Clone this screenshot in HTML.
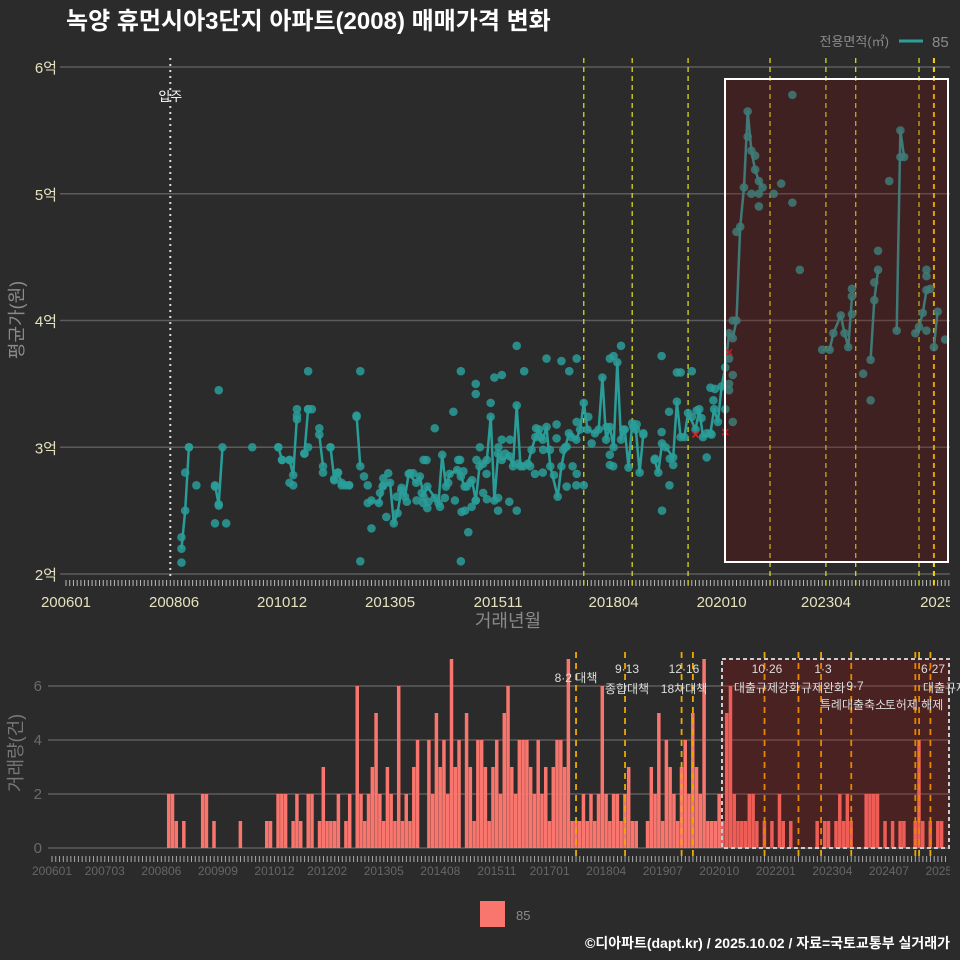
<!DOCTYPE html>
<html><head><meta charset="utf-8">
<style>
html,body{margin:0;padding:0;background:#2b2b2b;}
svg{display:block;font-family:"Liberation Sans","Noto Sans CJK KR",sans-serif;}
</style></head>
<body>
<svg id="chart" width="960" height="960" viewBox="0 0 960 960" xmlns="http://www.w3.org/2000/svg">
<defs><clipPath id="rightClip"><rect x="0" y="0" width="950" height="960"/></clipPath></defs>
<rect x="0" y="0" width="960" height="960" fill="#2b2b2b"/>
<text x="66" y="29" fill="#ffffff" font-size="24" font-weight="bold">녹양 휴먼시아3단지 아파트(2008) 매매가격 변화</text>
<text x="889" y="46" fill="#8a8a8a" font-size="13" text-anchor="end">전용면적(㎡)</text>
<line x1="899" y1="41" x2="923" y2="41" stroke="#2e9e9a" stroke-width="3"/>
<text x="932" y="47" fill="#8a8a8a" font-size="15">85</text>
<text transform="translate(23,320) rotate(-90)" fill="#8a8a8a" font-size="18" text-anchor="middle">평균가(원)</text>
<text x="508" y="627" fill="#8a8a8a" font-size="18" text-anchor="middle">거래년월</text>
<text transform="translate(22,753) rotate(-90)" fill="#777" font-size="18" text-anchor="middle">거래량(건)</text>
<g id="topPanel"></g>
<g id="botPanel"></g>
<g id="labelsClip" clip-path="url(#rightClip)"></g>
<rect x="480" y="901" width="25" height="26" fill="#f8766d"/>
<text x="516" y="920" fill="#8a8a8a" font-size="13">85</text>
<text x="950" y="948" fill="#ffffff" font-size="14" font-weight="bold" text-anchor="end">©디아파트(dapt.kr) / 2025.10.02 / 자료=국토교통부 실거래가</text>
</svg>
<script>
// months are counted from 2006-01 (index 0)
const priceTicks = [2,3,4,5,6];
const priceTickLabels = ["2억","3억","4억","5억","6억"];
const xTickMonths = [0,29,58,87,116,147,176,204,236];
const xTickLabels = ["200601","200806","201012","201305","201511","201804","202010","202304","202509"];
const lineMonths = [31,32,33,null,40,41,42,null,57,58,60,61,62,null,64,65,null,68,69,null,71,72,73,74,76,null,78,79,null,
81,82,84,85,87,88,89,90,91,92,94,95,96,97,99,100,101,102,103,105,106,107,109,110,111,112,113,114,115,116,117,119,120,121,122,124,125,126,127,128,129,130,132,133,134,135,137,138,139,140,142,143,144,145,146,147,148,149,150,151,152,153,154,155,null,
158,159,160,161,163,164,165,166,167,169,170,171,173,174,175,176,177,178,179,180,181,182,183,184,185,186,187,null,
203,205,206,208,209,210,211,null,216,217,218,null,223,224,225,null,228,229,230,231,null,233,234];
const lineValues = [2.2,2.5,3.0,null,2.7,2.55,3.0,null,3.0,2.9,2.9,2.78,3.25,null,2.95,3.3,null,3.1,2.85,null,3.0,2.75,2.8,2.72,2.7,null,3.25,2.85,null,
2.56,2.58,2.56,2.69,2.72,2.40,2.48,2.66,2.61,2.79,2.72,2.77,2.61,2.69,2.6,2.56,2.94,2.69,2.79,2.82,2.77,2.69,2.74,2.58,2.85,2.87,2.90,3.24,2.58,2.95,2.90,2.93,2.85,3.33,2.85,2.87,2.98,3.08,3.14,3.06,3.16,2.85,2.61,2.85,3.0,3.11,3.06,3.14,3.35,3.14,3.11,3.14,3.55,3.06,3.16,3.0,3.67,3.06,3.14,2.84,3.19,3.14,2.8,3.11,null,
2.9,2.8,3.03,3.0,2.92,3.36,3.08,3.08,3.27,3.14,3.3,3.08,3.11,3.3,3.2,3.48,3.63,3.9,3.86,4.0,4.74,5.05,5.65,5.34,5.19,5.1,5.05,null,
3.77,3.77,3.9,4.04,3.9,3.79,4.19,null,3.69,4.16,4.4,null,3.92,5.5,5.29,null,3.9,3.95,4.06,4.24,null,3.79,4.07];
const dotMonths = [31,31,32,33,35,40,41,40,41,43,50,57,58,60,60,61,62,62,64,65,65,66,65,68,69,71,72,73,74,75,76,78,
79,79,80,81,82,86,96,97,99,104,106,106,108,110,110,110,112,113,114,115,116,116,117,119,121,121,123,128,129,131,133,136,137,139,147,149,160,162,164,165,172,173,
85.2,86.5,92.3,93.2,96.8,97.3,95.9,100.4,101.7,102.6,105.3,105.8,106.7,107.6,110.2,111.1,112.9,116.1,117,117.9,119.2,121.4,122.8,124.6,125.9,126.2,127.3,128.1,129.9,131.7,131.7,133.5,134.4,85.2,84.3,88.8,90.1,91.5,94.1,95.5,104.4,106.2,107.1,108.5,108.9,
134.4,135.7,137.1,137.1,140.2,141.1,145.1,146,146,146.9,149.6,152.3,153.2,155,158.1,159.9,161.9,162.1,163,168,169.3,170.6,172,173.3,173.8,174.2,168,159.9,135.1,137.1,146,
179,179,178,178,177,178,183,185,186,184,186,190,192,195,195,197,180,179,211,211,214,216,218,217,221,224,231,231,232,231,236];
const dotValues = [2.09,2.29,2.80,3.0,2.70,2.69,2.54,2.40,3.45,2.40,3.0,3.0,2.9,2.9,2.72,2.7,3.22,3.3,2.95,3.0,3.3,3.3,3.6,3.15,2.8,3.0,2.74,2.8,2.7,2.7,2.7,3.24,
3.6,2.1,2.77,2.7,2.36,2.45,2.9,2.52,3.15,3.28,3.6,2.1,2.33,3.42,3.5,2.58,2.64,2.59,3.35,3.55,2.6,2.5,3.57,2.57,3.8,2.5,3.6,2.8,3.7,2.78,3.68,2.85,2.7,2.7,3.72,3.8,2.5,2.7,3.59,3.59,2.92,3.47,
2.755,2.795,2.795,2.795,2.899,2.57,2.56,2.53,2.60,2.72,2.90,2.90,2.81,2.69,2.90,3.00,2.79,3.00,3.06,2.95,3.06,2.87,2.85,2.85,2.79,3.15,3.08,2.98,2.98,3.18,3.07,2.98,2.69,2.70,2.64,2.61,2.68,2.57,2.58,2.64,2.58,2.49,2.50,2.72,2.53,
3.005,3.08,3.20,2.79,3.24,3.03,3.16,2.94,2.86,2.85,3.14,3.16,3.18,3.10,2.91,3.12,3.28,2.91,2.86,3.24,3.29,3.23,3.11,3.10,3.37,3.46,3.60,3.72,3.60,3.70,3.70,
3.57,3.2,3.5,3.45,3.3,3.7,5.45,5.3,5.0,5.0,4.9,5.0,5.08,5.78,4.93,4.4,4.7,4.0,4.25,4.05,3.58,3.37,4.55,4.3,5.1,5.29,4.4,4.35,4.25,3.92,3.85];
const crossMonths = [178,177,169];
const crossValues = [3.75,3.12,3.1];
const policyMonths = [139,152,167,189,204,212,229,233];
const volTicks = [0,2,4,6];
const volXTickMonths = [0,14,29,44,59,73,88,103,118,132,147,162,177,192,207,222,237];
const volXTickLabels = ["200601","200703","200806","200909","201012","201202","201305","201408","201511","201701","201804","201907","202010","202201","202304","202407","202510"];
const volMonths = [31,32,33,35,40,41,43,50,57,58,60,61,62,64,65,66,68,69,71,72,73,74,75,76,78,79,81,82,83,84,85,86,87,88,89,90,91,92,93,94,95,96,97,100,101,102,103,104,105,106,107,108,110,111,112,113,
114,115,116,117,118,119,120,121,122,123,124,125,126,127,128,129,130,131,132,133,134,135,136,137,138,139,140,141,142,143,144,145,146,147,148,149,150,151,152,153,154,155,
158,159,160,161,162,163,164,165,166,167,168,169,170,171,172,173,174,175,176,177,178,179,180,181,182,183,184,185,186,187,189,191,193,194,196,203,205,206,208,209,210,211,212,216,217,218,219,221,223,225,226,229,230,231,233,235,236];
const volCounts = [2,2,1,1,2,2,1,1,1,1,2,2,2,1,2,1,2,2,1,3,1,1,1,2,1,2,6,2,1,2,3,5,2,1,3,2,1,6,1,2,1,3,4,4,2,5,3,4,2,7,3,4,5,3,1,4,
4,3,1,3,4,2,5,6,3,2,4,4,4,3,2,4,2,3,1,3,4,4,3,7,1,1,1,2,1,2,1,2,6,2,1,2,2,1,2,3,1,1,
1,3,2,5,1,4,3,2,1,3,4,2,5,3,2,7,1,1,1,2,1,5,6,2,1,1,1,2,2,1,1,1,2,1,1,1,1,1,1,2,1,2,1,2,2,2,2,1,1,1,1,1,4,1,1,1,1];
const volPolicyMonths = [139,152,167,170,189,198,204,212,229,230,233];

const NS = "http://www.w3.org/2000/svg";
function mk(parent, tag, attrs){const e=document.createElementNS(NS,tag);for(const k in attrs)e.setAttribute(k,attrs[k]);parent.appendChild(e);return e;}
const topG = document.getElementById('topPanel');
const botG = document.getElementById('botPanel');
const lblG = document.getElementById('labelsClip');
const xT = m => 66 + m*3.725;
const yT = v => 574 - (v-2)*126.75;
const xB = m => 52 + m*3.77;
const yB = c => 848 - c*27;

priceTicks.forEach((t,i)=>{
  let g = mk(topG,'line',{x1:60,x2:950,y1:yT(t),y2:yT(t),stroke:'#5c5c5c','stroke-width':1.5});
  
  
  let tk = mk(topG,'text',{x:57,y:yT(t)+6,fill:'#e6e2bf','font-size':15,'text-anchor':'end'});
  tk.textContent = priceTickLabels[i];
  
  
});
for(let m=0;m<=237;m++){
  let t = mk(topG,'line',{x1:xT(m),x2:xT(m),y1:580,y2:586,stroke:'#bbb','stroke-width':1});
  
  
}
xTickMonths.forEach((m,i)=>{
  let t = mk(lblG,'text',{x:xT(m),y:607,fill:'#e6e2bf','font-size':15,'text-anchor':'middle'});
  t.textContent = xTickLabels[i];
  
  
});
let occ = mk(topG,'line',{x1:xT(28),x2:xT(28),y1:58,y2:578,stroke:'#dddddd','stroke-width':2,'stroke-dasharray':'2,4'});


let occT = mk(topG,'text',{x:xT(28),y:101,fill:'#ffffff','font-size':13,'text-anchor':'middle'});
occT.textContent='입주';


policyMonths.forEach((m,i)=>{
  let last = i===policyMonths.length-1;
  let l = mk(topG,'line',{x1:xT(m),x2:xT(m),y1:58,y2:588,stroke:last?'#f5d400':'#d8d820','stroke-width':last?2:1.3,'stroke-dasharray':'5,4'});
  
  
});
let d='', pen=false;
lineMonths.forEach((m,i)=>{
  const v=lineValues[i];
  if(m===null||v===null||v===undefined){pen=false;return;}
  d += (pen?'L':'M')+xT(m).toFixed(1)+','+yT(v).toFixed(1)+' ';
  pen=true;
});
let path = mk(topG,'path',{d:d,fill:'none',stroke:'#2a9d99','stroke-width':2.5,'stroke-linejoin':'round'});


lineMonths.forEach((m,i)=>{
  const v=lineValues[i];
  if(m===null||v===null||v===undefined) return;
  let c = mk(topG,'circle',{cx:xT(m),cy:yT(v),r:4.3,fill:'#2a9d99','fill-opacity':0.85});
  
  
});
dotMonths.forEach((m,i)=>{
  const v=dotValues[i];
  if(v===undefined) return;
  let c = mk(topG,'circle',{cx:xT(m),cy:yT(v),r:4.3,fill:'#2a9d99','fill-opacity':0.85});
  
  
});
crossMonths.forEach((m,i)=>{
  let x=xT(m), y=yT(crossValues[i]);
  let c = mk(topG,'path',{d:`M${x-3},${y-3}L${x+3},${y+3}M${x-3},${y+3}L${x+3},${y-3}`,stroke:'#e0202a','stroke-width':1.5});
  
  
});
let hb = mk(topG,'rect',{x:725,y:79,width:223,height:483,fill:'rgba(139,0,0,0.22)',stroke:'#ffffff','stroke-width':2});



volTicks.forEach(t=>{
  let g = mk(botG,'line',{x1:48,x2:950,y1:yB(t),y2:yB(t),stroke:'#5c5c5c','stroke-width':1.5});
  
  
  let tk = mk(botG,'text',{x:42,y:yB(t)+5,fill:'#6a6a6a','font-size':15,'text-anchor':'end'});
  tk.textContent = String(t);
  
  
});
volMonths.forEach((m,i)=>{
  const c = volCounts[i];
  if(c===undefined) return;
  let b = mk(botG,'rect',{x:xB(m)-1.88,y:yB(c),width:3.5,height:c*27,fill:'#f8766d'});
  
  
});
for(let m=0;m<=237;m++){
  let t = mk(botG,'line',{x1:xB(m),x2:xB(m),y1:856,y2:862,stroke:'#aaa','stroke-width':1});
  
  
}
volXTickMonths.forEach((m,i)=>{
  let t = mk(lblG,'text',{x:xB(m),y:875,fill:'#666','font-size':12,'text-anchor':'middle'});
  t.textContent = volXTickLabels[i];
  
  
});
volPolicyMonths.forEach(m=>{
  let l = mk(botG,'line',{x1:xB(m),x2:xB(m),y1:652,y2:858,stroke:'#f0a800','stroke-width':1.8,'stroke-dasharray':'6,5'});
  
  
});
let vb = mk(botG,'rect',{x:722,y:659,width:227,height:189,fill:'rgba(200,0,0,0.2)',stroke:'#cccccc','stroke-width':2,'stroke-dasharray':'4,3'});


const notes = [["8·2 대책",576,682],["9·13",627,673],["종합대책",627,693],["12·16",684,673],["18차대책",684,693],["10·26",767,673],["대출규제강화",767,692],["1·3",823,673],["규제완화",823,692],["9·7",855,690],["특례대출축소",853,709],["토허제 해제",914,709],["6·27",933,673],["대출규제",945,692]];
notes.forEach(n=>{
  let t = mk(botG,'text',{x:n[1],y:n[2],fill:'#dddddd','font-size':12,'text-anchor':'middle'});
  t.textContent = n[0];
  
  
});
</script>
</body></html>
